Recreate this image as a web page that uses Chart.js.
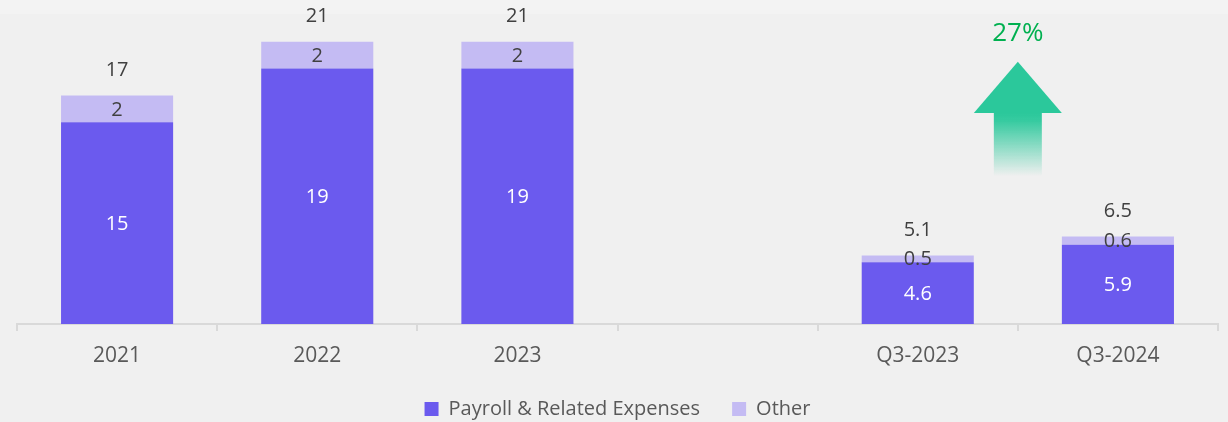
<!DOCTYPE html>
<html>
<head>
<meta charset="utf-8">
<script src="https://cdn.jsdelivr.net/npm/chart.js@4.4.1/dist/chart.umd.min.js"></script>
<style>
  html, body { margin: 0; padding: 0; }
  body {
    width: 1228px; height: 422px; overflow: hidden;
    background: linear-gradient(#f3f3f3 0, #f3f3f3 14px, #f0f0f0 14px);
  }
  #wrap { position: relative; width: 1228px; height: 422px; }
</style>
</head>
<body>
<div id="wrap"><canvas id="costChart"></canvas></div>
<script>
// yearly and quarterly cost breakdown (millions)
const categories = ['2021', '2022', '2023', '', 'Q3-2023', 'Q3-2024'];
const payroll = [15, 19, 19, null, 4.6, 5.9];
const other = [2, 2, 2, null, 0.5, 0.6];
const totals = [17, 21, 21, null, 5.1, 6.5];

// growth callout between the two quarters
const growthFrom = 4;
const growthTo = 5;
const growthText = '27%';

const FONT = "'Open Sans', 'Liberation Sans', sans-serif";

// value labels: inside each segment, totals above the stack
const valueLabels = {
    id: 'valueLabels',
    afterDatasetsDraw(chart) {
        const ctx = chart.ctx;
        const metaPay = chart.getDatasetMeta(0);
        const metaOther = chart.getDatasetMeta(1);
        ctx.save();
        ctx.textAlign = 'center';
        ctx.textBaseline = 'middle';
        ctx.font = '20px ' + FONT;
        payroll.forEach((v, i) => {
            if (v == null) return;
            let bar = metaPay.data[i];
            ctx.fillStyle = '#ffffff';
            ctx.fillText(String(v), bar.x, (bar.y + bar.base) / 2 + 1);

            let ob = metaOther.data[i];
            ctx.fillStyle = '#404040';
            ctx.fillText(String(other[i]), ob.x, (ob.y + ob.base) / 2 + 1);

            ctx.fillText(String(totals[i]), ob.x, ob.y - 25);
        });
        ctx.restore();
    }
};

// green arrow with the growth percentage
const growthArrow = {
    id: 'growthArrow',
    afterDatasetsDraw(chart) {
        const ctx = chart.ctx;
        const y = chart.scales.y;
        const meta = chart.getDatasetMeta(1);
        const cx = (meta.data[growthFrom].x + meta.data[growthTo].x) / 2;
        const tip = y.getPixelForValue(19.5);
        const headBase = y.getPixelForValue(15.7);
        const tail = y.getPixelForValue(11.0);

        ctx.save();
        ctx.fillStyle = '#2bc89b';
        ctx.beginPath();
        ctx.moveTo(cx, tip);
        ctx.lineTo(cx + 44, headBase);
        ctx.lineTo(cx - 44, headBase);
        ctx.closePath();
        ctx.fill();

        let grad = ctx.createLinearGradient(0, headBase, 0, tail);
        grad.addColorStop(0, 'rgba(43,200,155,1)');
        grad.addColorStop(0.12, 'rgba(43,200,155,0.95)');
        grad.addColorStop(1, 'rgba(43,200,155,0)');
        ctx.fillStyle = grad;
        ctx.fillRect(cx - 24, headBase - 0.5, 48, tail - headBase);

        ctx.fillStyle = '#00b050';
        ctx.font = '26px ' + FONT;
        ctx.textAlign = 'center';
        ctx.textBaseline = 'middle';
        ctx.fillText(growthText, cx, y.getPixelForValue(21.6));
        ctx.restore();
    }
};

Chart.defaults.font.family = FONT;

new Chart(document.getElementById('costChart'), {
    type: 'bar',
    data: {
        labels: categories,
        datasets: [
            {
                label: 'Payroll & Related Expenses',
                data: payroll,
                backgroundColor: '#6b5aee',
                categoryPercentage: 1,
                barPercentage: 0.56
            },
            {
                label: 'Other',
                data: other,
                backgroundColor: '#c4bbf3',
                categoryPercentage: 1,
                barPercentage: 0.56
            }
        ]
    },
    options: {
        responsive: true,
        maintainAspectRatio: false,
        animation: false,
        layout: { padding: { left: 17, right: 10, top: 0, bottom: -7 } },
        plugins: {
            tooltip: { enabled: false },
            legend: {
                position: 'bottom',
                labels: {
                    color: '#595959',
                    font: { size: 20 },
                    boxWidth: 14,
                    boxHeight: 14,
                    padding: 32
                }
            }
        },
        scales: {
            x: {
                stacked: true,
                border: { color: '#d9d9d9', width: 2 },
                grid: {
                    drawOnChartArea: false,
                    color: '#d9d9d9',
                    lineWidth: 2,
                    tickLength: 7
                },
                ticks: {
                    color: '#595959',
                    font: { size: 21 },
                    padding: 12
                },
                afterFit(scale) { scale.height = 43; }
            },
            y: {
                stacked: true,
                display: false,
                min: 0,
                max: 24.1
            }
        }
    },
    plugins: [valueLabels, growthArrow]
});
</script>
</body>
</html>
